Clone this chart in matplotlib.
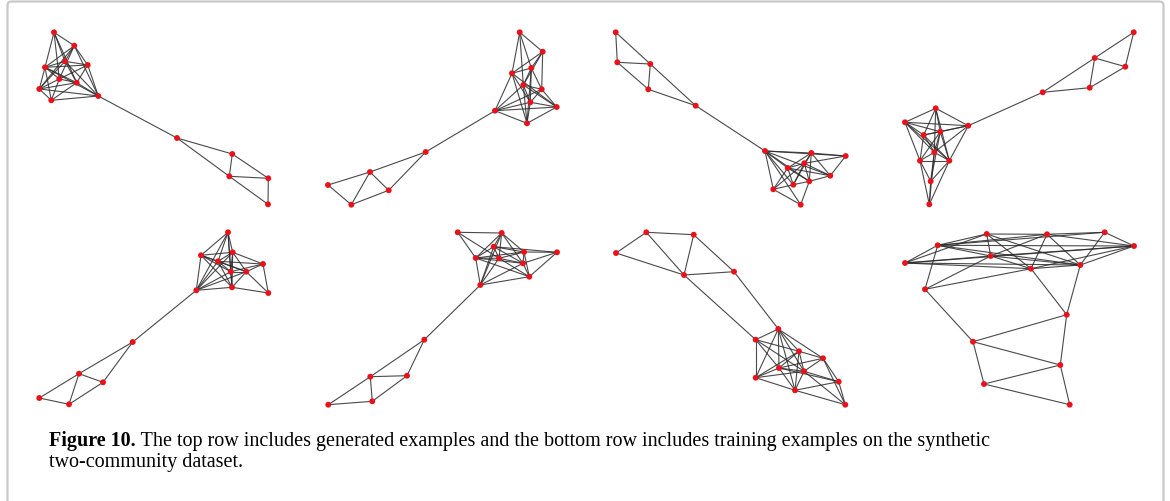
import matplotlib
matplotlib.use("Agg")
import matplotlib.pyplot as plt
from matplotlib.collections import LineCollection
from matplotlib.patches import FancyBboxPatch

# ---- node positions (pixel units) and edges per panel ----
# node labels a..o in order
p1_x = [54, 74.3, 65, 87.7, 45, 59.3, 76.7, 39.3, 51.3, 98.3, 177, 232.3, 229.3, 268.3, 268]
p1_y = [33.3, 46.7, 62.3, 66, 68.3, 80, 83.7, 90, 101.3, 97, 139, 155, 177.3, 179.3, 205.3]
p1_edges = ("ab ae ac ag af bd bc be bf bh bj cd ce cg cj ch dj dg df de ef eh eg ej ei "
            "fh fg fi gh gi gj hi hj ij "
            "jk kl km lm ln mn no mo")

p2_x = [519.7, 542.7, 531.3, 512, 523.3, 541.7, 530.3, 556.7, 495, 527, 425.7, 370, 388.7, 328, 351.3]
p2_y = [33.3, 52.7, 69, 74.3, 86, 90.3, 103.3, 108, 111.7, 124.3, 153, 173, 191.3, 186, 205.7]
p2_edges = ("ab ad ae ac bc bd bf be cd ce cg cf di dg dj dh ef eg eh ej ei fh fi fg "
            "gi gh hj hi ij gj cj "
            "ik kl km lm ln lo no om")

p3_x = [615.7, 617.3, 650.3, 648.3, 695.7, 765, 811.3, 845.7, 804.3, 787.7, 830.3, 809.3, 793.3, 773.3, 800.7]
p3_y = [33.3, 63.3, 65, 90.3, 106.7, 152, 154, 157, 164.3, 169, 176.7, 182.3, 185.7, 190.3, 205.7]
p3_edges = ("ab ac bc bd cd ce de ef "
            "fg fh fj fn fm fo fl fk gh gi gj gl gk gm hk hi ij il im ik jk jm jn jl "
            "kl lm lo mn no ni")

p4_x = [1133.7, 1094.7, 1125.3, 1089.7, 1042.7, 935.7, 905, 968.3, 940.3, 923.7, 934.3, 920, 949.3, 930.7, 929.3]
p4_y = [33.3, 59, 67.7, 88.7, 93.3, 109.3, 123.3, 126.7, 132.7, 136, 153.3, 161.7, 161.7, 182.3, 205.3]
p4_edges = ("ab ac bc bd cd de be eh "
            "fg fh fi fj fk fm gh gi gj gl gk gm hi hm hk hj ij ik il im in jk jl jm "
            "kl km kn lm ln lo mn no ko mo")

p5_x = [228, 201, 232.7, 218, 263, 230.7, 246.3, 196.3, 232, 268.3, 132.7, 79, 103, 39.3, 69]
p5_y = [233.3, 256.3, 253.3, 262.3, 265, 272.7, 272.7, 291.3, 288.3, 294, 343, 374.7, 383.3, 399, 405.3]
p5_edges = ("ab ac ad ah af ai bc bd bh bf bi bg cd ce cf cg ci ch df dg de dh di "
            "eg ej ef fg fh fi gi gj gh hi ij "
            "hk kl km lm ln lo no om")

p6_x = [457.7, 501.7, 493.7, 524, 557, 475.7, 499, 523, 529.3, 480.3, 424.3, 370.3, 407, 372.3, 328.3]
p6_y = [233.3, 234, 247.7, 253, 253.3, 259, 259.3, 264.3, 277.7, 286, 340.7, 377.7, 376.7, 402.3, 405.7]
p6_edges = ("ab af ag bc bf bg bd bj bh cd cg ch ce cf de dg df dh di eh ei "
            "fg fh fj fi gh gj gi hi hj ij cj "
            "jk kl km lm ln lo no nm")

p7_x = [646.3, 693.7, 616, 734, 684, 778.3, 755.7, 799, 823, 779, 804, 755.7, 838.7, 795, 845.3]
p7_y = [233.3, 235.7, 254, 272.7, 276, 330, 340.7, 352.3, 359.3, 369, 372.3, 378.7, 382.7, 391.3, 405.7]
p7_edges = ("ab ac ae be bd ce de df eg "
            "fg fh fi fj fk fl fn gh gj gk gl hi hj hk hl hn ij ik im io "
            "jk jl jm jn kl km kn ln mn mo no ko")

p8_x = [986.7, 1047, 1104.7, 937.7, 1134, 990.7, 905, 1080.3, 1031, 925, 1066.7, 973, 1060.3, 984, 1069.7]
p8_y = [235, 235.3, 233.3, 246.3, 247, 257, 264, 266, 269.7, 290.3, 315.7, 342.7, 366, 385, 405.7]
p8_edges = ("ab ad af ag ai ah bc bd bf bi bh be ce ch cd df dg dj dh de ef eh ei "
            "fg fi fh gh gi ge ji jf ih "
            "jl hk ik kl lm ln km mn mo no")

panels = [
    (p1_x, p1_y, p1_edges), (p2_x, p2_y, p2_edges),
    (p3_x, p3_y, p3_edges), (p4_x, p4_y, p4_edges),
    (p5_x, p5_y, p5_edges), (p6_x, p6_y, p6_edges),
    (p7_x, p7_y, p7_edges), (p8_x, p8_y, p8_edges),
]

caption_bold = "Figure 10."
caption_line1 = " The top row includes generated examples and the bottom row includes training examples on the synthetic"
caption_line2 = "two-community dataset."

W, H = 1170, 502
fig = plt.figure(figsize=(W / 100, H / 100), dpi=100)
ax = fig.add_axes([0, 0, 1, 1])
ax.set_xlim(0, W)
ax.set_ylim(H, 0)
ax.axis("off")

# frame
frame = FancyBboxPatch((7.5, 2.5), 1156, 560, boxstyle="round,pad=0,rounding_size=4",
                       fill=False, edgecolor="#c9c9c9", linewidth=1.6)
ax.add_patch(frame)

letters = "abcdefghijklmno"
for xs, ys, es in panels:
    segs = []
    for e in es.split():
        i, j = letters.index(e[0]), letters.index(e[1])
        segs.append([(xs[i], ys[i]), (xs[j], ys[j])])
    ax.add_collection(LineCollection(segs, colors="#2a2a2a", linewidths=0.8, alpha=0.85, zorder=1))
    ax.scatter(xs, ys, s=18, color="#e8121a", edgecolors="none", zorder=2)

fs = 14.5
t = ax.text(49, 446, caption_bold, fontsize=fs, fontweight="bold",
            family="Liberation Serif", va="baseline", ha="left")
fig.canvas.draw()
bb = t.get_window_extent()
x_end = bb.x1
ax.text(x_end, 446, caption_line1, fontsize=fs, family="Liberation Serif",
        va="baseline", ha="left")
ax.text(49, 467.5, caption_line2, fontsize=fs, family="Liberation Serif",
        va="baseline", ha="left")

fig.savefig("out.png", dpi=100)
